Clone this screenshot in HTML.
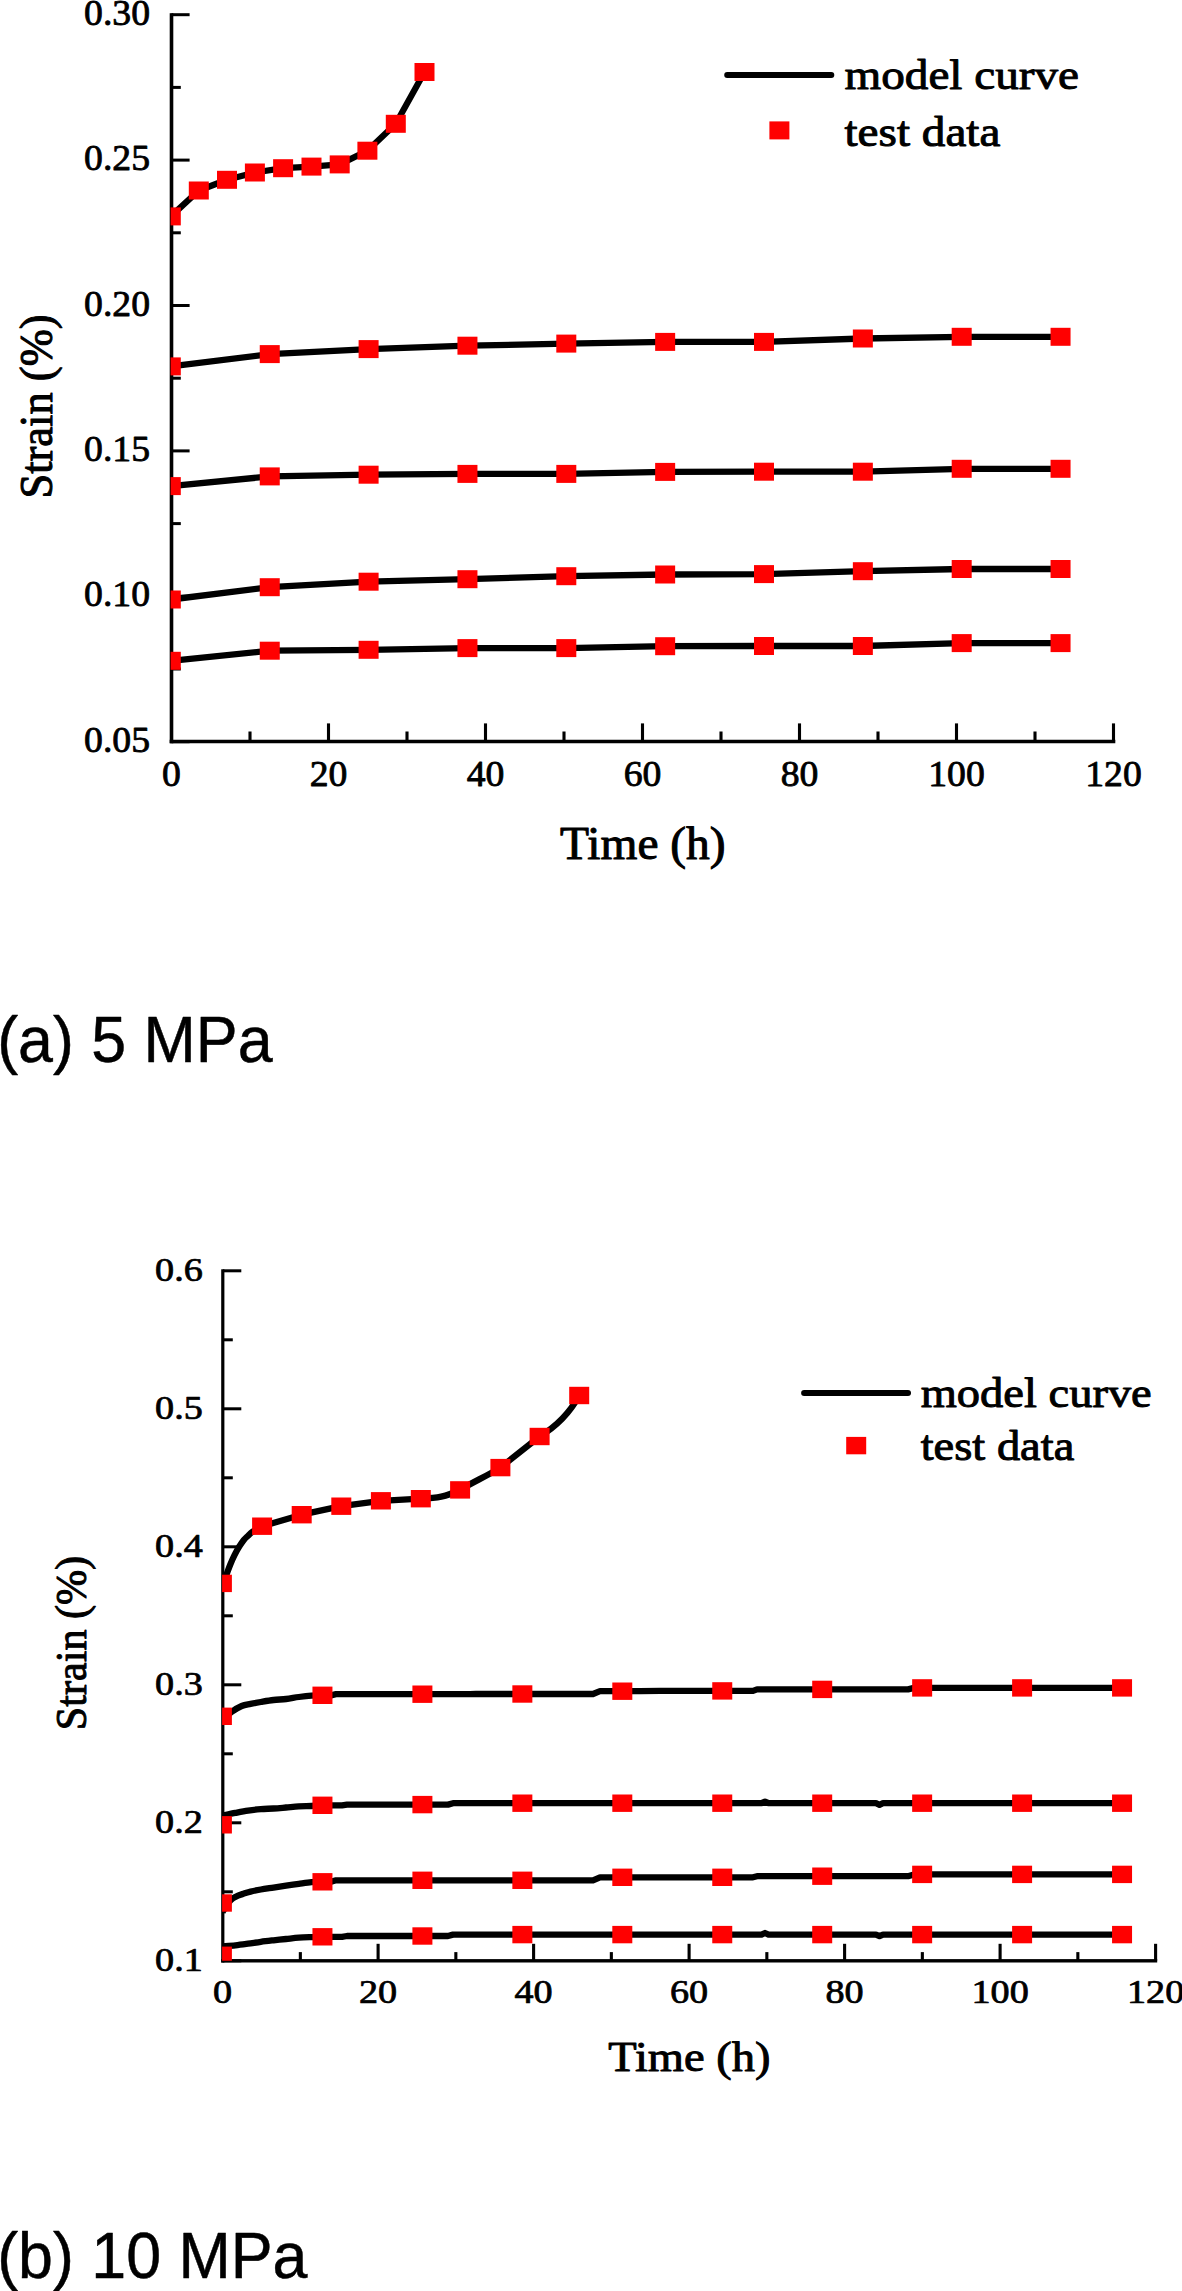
<!DOCTYPE html>
<html lang="en"><head><meta charset="utf-8"><title>Creep curves</title>
<style>html,body{margin:0;padding:0;background:#fff}body{width:1182px;height:2291px;overflow:hidden;position:relative}svg{display:block;position:absolute;left:0;top:0}svg text{font-family:"Liberation Serif","Times New Roman",serif;fill:#000;stroke:#000;stroke-width:0.85px;stroke-linejoin:round}svg text.t{stroke-width:1.05px}svg text.cap{font-family:"Liberation Sans",Arial,sans-serif;stroke-width:0.5px}</style></head><body>
<svg width="1182" height="2291" viewBox="0 0 1182 2291">
<rect width="1182" height="2291" fill="#fff"/>
<g id="a">
<rect x="169.7" y="13.2" width="3.6" height="730.05" fill="#000"/>
<rect x="169.7" y="739.75" width="945.6" height="3.5" fill="#000"/>
<rect x="171.5" y="13.2" width="18.1" height="3" fill="#000"/>
<rect x="171.5" y="158.6" width="18.1" height="3" fill="#000"/>
<rect x="171.5" y="304" width="18.1" height="3" fill="#000"/>
<rect x="171.5" y="449.4" width="18.1" height="3" fill="#000"/>
<rect x="171.5" y="594.8" width="18.1" height="3" fill="#000"/>
<rect x="171.5" y="740.2" width="18.1" height="3" fill="#000"/>
<rect x="171.5" y="85.9" width="9.3" height="3" fill="#000"/>
<rect x="171.5" y="231.3" width="9.3" height="3" fill="#000"/>
<rect x="171.5" y="376.7" width="9.3" height="3" fill="#000"/>
<rect x="171.5" y="522.1" width="9.3" height="3" fill="#000"/>
<rect x="171.5" y="667.5" width="9.3" height="3" fill="#000"/>
<rect x="248.45" y="731.5" width="3.1" height="10" fill="#000"/>
<rect x="326.95" y="723.4" width="3.1" height="18.1" fill="#000"/>
<rect x="405.45" y="731.5" width="3.1" height="10" fill="#000"/>
<rect x="483.95" y="723.4" width="3.1" height="18.1" fill="#000"/>
<rect x="562.45" y="731.5" width="3.1" height="10" fill="#000"/>
<rect x="640.95" y="723.4" width="3.1" height="18.1" fill="#000"/>
<rect x="719.45" y="731.5" width="3.1" height="10" fill="#000"/>
<rect x="797.95" y="723.4" width="3.1" height="18.1" fill="#000"/>
<rect x="876.45" y="731.5" width="3.1" height="10" fill="#000"/>
<rect x="954.95" y="723.4" width="3.1" height="18.1" fill="#000"/>
<rect x="1033.45" y="731.5" width="3.1" height="10" fill="#000"/>
<rect x="1111.95" y="723.4" width="3.1" height="18.1" fill="#000"/>
<text transform="translate(150,24.7) scale(1,0.975)" font-size="37.7" text-anchor="end">0.30</text>
<text transform="translate(150,170.1) scale(1,0.975)" font-size="37.7" text-anchor="end">0.25</text>
<text transform="translate(150,315.5) scale(1,0.975)" font-size="37.7" text-anchor="end">0.20</text>
<text transform="translate(150,460.9) scale(1,0.975)" font-size="37.7" text-anchor="end">0.15</text>
<text transform="translate(150,606.3) scale(1,0.975)" font-size="37.7" text-anchor="end">0.10</text>
<text transform="translate(150,751.7) scale(1,0.975)" font-size="37.7" text-anchor="end">0.05</text>
<text transform="translate(171.5,785.7) scale(1,0.975)" font-size="37.7" text-anchor="middle">0</text>
<text transform="translate(328.5,785.7) scale(1,0.975)" font-size="37.7" text-anchor="middle">20</text>
<text transform="translate(485.5,785.7) scale(1,0.975)" font-size="37.7" text-anchor="middle">40</text>
<text transform="translate(642.5,785.7) scale(1,0.975)" font-size="37.7" text-anchor="middle">60</text>
<text transform="translate(799.5,785.7) scale(1,0.975)" font-size="37.7" text-anchor="middle">80</text>
<text transform="translate(956.5,785.7) scale(1,0.975)" font-size="37.7" text-anchor="middle">100</text>
<text transform="translate(1113.5,785.7) scale(1,0.975)" font-size="37.7" text-anchor="middle">120</text>
<text class="t" transform="translate(642.8,858.6) scale(1,0.975)" font-size="47.4" text-anchor="middle">Time (h)</text>
<text class="t" transform="translate(52.1,406.5) rotate(-90) scale(0.955,1)" font-size="46.6" text-anchor="middle">Strain (%)</text>
<clipPath id="clipa"><rect x="170.6" y="0" width="1010.5" height="741.5"/></clipPath>
<g clip-path="url(#clipa)">
<path d="M170.8 216.4 L198.8 190.5 L227 179.8 L254.9 172.5 L283.1 168.2 L311.5 166.6 L339.7 164.4 L367.4 150.7 L395.8 123.8 L424.5 72" fill="none" stroke="#000" stroke-width="6.3" stroke-linejoin="round" stroke-linecap="butt"/>
<path d="M170.8 366.4 L269.75 354.1 L368.6 349.1 L467.45 345.7 L566.3 343.6 L665.15 341.9 L764 341.9 L862.85 338.5 L961.7 336.8 L1060.55 336.8" fill="none" stroke="#000" stroke-width="6.3" stroke-linejoin="round" stroke-linecap="butt"/>
<path d="M170.8 486.1 L269.75 476.4 L368.6 474.7 L467.45 473.9 L566.3 473.9 L665.15 471.9 L764 471.7 L862.85 471.7 L961.7 468.8 L1060.55 468.8" fill="none" stroke="#000" stroke-width="6.3" stroke-linejoin="round" stroke-linecap="butt"/>
<path d="M170.8 599.5 L269.75 587.2 L368.6 581.7 L467.45 579.2 L566.3 576.2 L665.15 574.5 L764 574.1 L862.85 571.2 L961.7 569 L1060.55 569" fill="none" stroke="#000" stroke-width="6.3" stroke-linejoin="round" stroke-linecap="butt"/>
<path d="M170.8 660.8 L269.75 650.7 L368.6 649.8 L467.45 648.1 L566.3 648.1 L665.15 646.2 L764 646 L862.85 646 L961.7 643.1 L1060.55 643.1" fill="none" stroke="#000" stroke-width="6.3" stroke-linejoin="round" stroke-linecap="butt"/>
<rect x="160.8" y="207.4" width="20" height="18" fill="#f00"/>
<rect x="188.8" y="181.5" width="20" height="18" fill="#f00"/>
<rect x="217" y="170.8" width="20" height="18" fill="#f00"/>
<rect x="244.9" y="163.5" width="20" height="18" fill="#f00"/>
<rect x="273.1" y="159.2" width="20" height="18" fill="#f00"/>
<rect x="301.5" y="157.6" width="20" height="18" fill="#f00"/>
<rect x="329.7" y="155.4" width="20" height="18" fill="#f00"/>
<rect x="357.4" y="141.7" width="20" height="18" fill="#f00"/>
<rect x="385.8" y="114.8" width="20" height="18" fill="#f00"/>
<rect x="414.5" y="63" width="20" height="18" fill="#f00"/>
<rect x="160.8" y="357.4" width="20" height="18" fill="#f00"/>
<rect x="259.75" y="345.1" width="20" height="18" fill="#f00"/>
<rect x="358.6" y="340.1" width="20" height="18" fill="#f00"/>
<rect x="457.45" y="336.7" width="20" height="18" fill="#f00"/>
<rect x="556.3" y="334.6" width="20" height="18" fill="#f00"/>
<rect x="655.15" y="332.9" width="20" height="18" fill="#f00"/>
<rect x="754" y="332.9" width="20" height="18" fill="#f00"/>
<rect x="852.85" y="329.5" width="20" height="18" fill="#f00"/>
<rect x="951.7" y="327.8" width="20" height="18" fill="#f00"/>
<rect x="1050.55" y="327.8" width="20" height="18" fill="#f00"/>
<rect x="160.8" y="477.1" width="20" height="18" fill="#f00"/>
<rect x="259.75" y="467.4" width="20" height="18" fill="#f00"/>
<rect x="358.6" y="465.7" width="20" height="18" fill="#f00"/>
<rect x="457.45" y="464.9" width="20" height="18" fill="#f00"/>
<rect x="556.3" y="464.9" width="20" height="18" fill="#f00"/>
<rect x="655.15" y="462.9" width="20" height="18" fill="#f00"/>
<rect x="754" y="462.7" width="20" height="18" fill="#f00"/>
<rect x="852.85" y="462.7" width="20" height="18" fill="#f00"/>
<rect x="951.7" y="459.8" width="20" height="18" fill="#f00"/>
<rect x="1050.55" y="459.8" width="20" height="18" fill="#f00"/>
<rect x="160.8" y="590.5" width="20" height="18" fill="#f00"/>
<rect x="259.75" y="578.2" width="20" height="18" fill="#f00"/>
<rect x="358.6" y="572.7" width="20" height="18" fill="#f00"/>
<rect x="457.45" y="570.2" width="20" height="18" fill="#f00"/>
<rect x="556.3" y="567.2" width="20" height="18" fill="#f00"/>
<rect x="655.15" y="565.5" width="20" height="18" fill="#f00"/>
<rect x="754" y="565.1" width="20" height="18" fill="#f00"/>
<rect x="852.85" y="562.2" width="20" height="18" fill="#f00"/>
<rect x="951.7" y="560" width="20" height="18" fill="#f00"/>
<rect x="1050.55" y="560" width="20" height="18" fill="#f00"/>
<rect x="160.8" y="651.8" width="20" height="18" fill="#f00"/>
<rect x="259.75" y="641.7" width="20" height="18" fill="#f00"/>
<rect x="358.6" y="640.8" width="20" height="18" fill="#f00"/>
<rect x="457.45" y="639.1" width="20" height="18" fill="#f00"/>
<rect x="556.3" y="639.1" width="20" height="18" fill="#f00"/>
<rect x="655.15" y="637.2" width="20" height="18" fill="#f00"/>
<rect x="754" y="637" width="20" height="18" fill="#f00"/>
<rect x="852.85" y="637" width="20" height="18" fill="#f00"/>
<rect x="951.7" y="634.1" width="20" height="18" fill="#f00"/>
<rect x="1050.55" y="634.1" width="20" height="18" fill="#f00"/>
</g>
<path d="M727.2 75.1H831.3" stroke="#000" stroke-width="6" stroke-linecap="round"/>
<rect x="769.4" y="121.4" width="20" height="18" fill="#f00"/>
<text class="t" transform="translate(844.5,89.3) scale(1,0.91)" font-size="47.2">model curve</text>
<text class="t" transform="translate(844.5,145.8) scale(1,0.91)" font-size="47.2">test data</text>
</g>
<g id="b">
<rect x="221.2" y="1269.3" width="3.2" height="693.2" fill="#000"/>
<rect x="221.2" y="1959.1" width="936" height="3.4" fill="#000"/>
<rect x="222.8" y="1269.3" width="18.5" height="3" fill="#000"/>
<rect x="222.8" y="1407.3" width="18.5" height="3" fill="#000"/>
<rect x="222.8" y="1545.3" width="18.5" height="3" fill="#000"/>
<rect x="222.8" y="1683.3" width="18.5" height="3" fill="#000"/>
<rect x="222.8" y="1821.3" width="18.5" height="3" fill="#000"/>
<rect x="222.8" y="1959.3" width="18.5" height="3" fill="#000"/>
<rect x="222.8" y="1338.3" width="10" height="3" fill="#000"/>
<rect x="222.8" y="1476.3" width="10" height="3" fill="#000"/>
<rect x="222.8" y="1614.3" width="10" height="3" fill="#000"/>
<rect x="222.8" y="1752.3" width="10" height="3" fill="#000"/>
<rect x="222.8" y="1890.3" width="10" height="3" fill="#000"/>
<rect x="298.8" y="1952.1" width="3.1" height="8.7" fill="#000"/>
<rect x="376.55" y="1943.8" width="3.1" height="17" fill="#000"/>
<rect x="454.3" y="1952.1" width="3.1" height="8.7" fill="#000"/>
<rect x="532.05" y="1943.8" width="3.1" height="17" fill="#000"/>
<rect x="609.8" y="1952.1" width="3.1" height="8.7" fill="#000"/>
<rect x="687.55" y="1943.8" width="3.1" height="17" fill="#000"/>
<rect x="765.3" y="1952.1" width="3.1" height="8.7" fill="#000"/>
<rect x="843.05" y="1943.8" width="3.1" height="17" fill="#000"/>
<rect x="920.8" y="1952.1" width="3.1" height="8.7" fill="#000"/>
<rect x="998.55" y="1943.8" width="3.1" height="17" fill="#000"/>
<rect x="1076.3" y="1952.1" width="3.1" height="8.7" fill="#000"/>
<rect x="1154.05" y="1943.8" width="3.1" height="17" fill="#000"/>
<text transform="translate(202.8,1280.6) scale(1,0.865)" font-size="38.2" text-anchor="end">0.6</text>
<text transform="translate(202.8,1418.6) scale(1,0.865)" font-size="38.2" text-anchor="end">0.5</text>
<text transform="translate(202.8,1556.6) scale(1,0.865)" font-size="38.2" text-anchor="end">0.4</text>
<text transform="translate(202.8,1694.6) scale(1,0.865)" font-size="38.2" text-anchor="end">0.3</text>
<text transform="translate(202.8,1832.6) scale(1,0.865)" font-size="38.2" text-anchor="end">0.2</text>
<text transform="translate(202.8,1970.6) scale(1,0.865)" font-size="38.2" text-anchor="end">0.1</text>
<text transform="translate(222.6,2003.2) scale(1,0.865)" font-size="38.2" text-anchor="middle">0</text>
<text transform="translate(378.1,2003.2) scale(1,0.865)" font-size="38.2" text-anchor="middle">20</text>
<text transform="translate(533.6,2003.2) scale(1,0.865)" font-size="38.2" text-anchor="middle">40</text>
<text transform="translate(689.1,2003.2) scale(1,0.865)" font-size="38.2" text-anchor="middle">60</text>
<text transform="translate(844.6,2003.2) scale(1,0.865)" font-size="38.2" text-anchor="middle">80</text>
<text transform="translate(1000.1,2003.2) scale(1,0.865)" font-size="38.2" text-anchor="middle">100</text>
<text transform="translate(1155.6,2003.2) scale(1,0.865)" font-size="38.2" text-anchor="middle">120</text>
<text class="t" transform="translate(689.3,2071) scale(1,0.89)" font-size="46.5" text-anchor="middle">Time (h)</text>
<text class="t" transform="translate(85.7,1643) rotate(-90) scale(0.912,0.95)" font-size="46.2" text-anchor="middle">Strain (%)</text>
<clipPath id="clipb"><rect x="222.1" y="0" width="959.2" height="1960.8"/></clipPath>
<g clip-path="url(#clipb)">
<path d="M222.2 1586 C222.92 1584.1 225.15 1578.18 226.5 1574.6 C227.85 1571.02 228.97 1567.75 230.3 1564.5 C231.63 1561.25 233.02 1558.07 234.5 1555.1 C235.98 1552.13 237.65 1549.23 239.2 1546.7 C240.75 1544.17 242.32 1541.73 243.8 1539.9 C245.28 1538.07 246.68 1537.03 248.1 1535.7 C249.52 1534.37 249.97 1533.48 252.3 1531.9 C254.63 1530.32 260.47 1527.15 262.1 1526.2 L301.7 1514.7 L341.3 1506.2 L380.9 1500.8 L420.8 1498.7 C438 1498 445 1497 460.1 1489.9 C475 1481 485 1477 500.4 1467.6 L539.6 1436.5 C557 1426 570 1412.5 579.2 1395.5" fill="none" stroke="#000" stroke-width="6.3" stroke-linejoin="round" stroke-linecap="butt"/>
<path d="M222.5 1720 C224.05 1718.63 228.6 1714.13 231.8 1711.8 C235 1709.47 238.57 1707.32 241.7 1706 C244.83 1704.68 247.42 1704.57 250.6 1703.9 C253.78 1703.23 256.98 1702.65 260.8 1702 C264.62 1701.35 269.28 1700.5 273.5 1700 C277.72 1699.5 281.88 1699.5 286.1 1699 C290.32 1698.5 294.57 1697.57 298.8 1697 C303.03 1696.43 307.56 1695.88 311.5 1695.6 C315.44 1695.32 320.62 1695.35 322.45 1695.3 L331 1695.3 L336 1694.2 L422.4 1694.2 L470 1694.2 L476 1694 L522.35 1694 L593 1694 L600 1691.2 L622.3 1691.2 L640 1691.2 L660 1690.9 L722.25 1690.9 L753 1690.9 L757 1689.4 L822.2 1689.4 L908 1689.4 L914 1687.9 L922.15 1687.9 L1022.1 1687.9 L1122.05 1687.9" fill="none" stroke="#000" stroke-width="6.3" stroke-linejoin="round" stroke-linecap="butt"/>
<path d="M222.5 1815.6 C224.65 1815.15 231.15 1813.73 235.4 1812.9 C239.65 1812.07 243.77 1811.23 248 1810.6 C252.23 1809.97 256.55 1809.45 260.8 1809.1 C265.05 1808.75 269.3 1808.77 273.5 1808.5 C277.7 1808.23 281.78 1807.85 286 1807.5 C290.22 1807.15 294.55 1806.65 298.8 1806.4 C303.05 1806.15 307.56 1806.18 311.5 1806 C315.44 1805.82 320.62 1805.42 322.45 1805.3 L342 1805.3 L347 1804.6 L422.4 1804.6 L448 1804.6 L453 1803.2 L522.35 1803.2 L622.3 1803.2 L722.25 1803.2 L761.5 1803.2 L765 1801.6 L768.5 1803.2 L822.2 1803.2 L876 1803.2 L879.5 1804.8 L883 1803.2 L922.15 1803.2 L1022.1 1803.2 L1122.05 1803.2" fill="none" stroke="#000" stroke-width="6.3" stroke-linejoin="round" stroke-linecap="butt"/>
<path d="M222.5 1912 C223.58 1910.33 227.25 1904.28 229 1902 C230.75 1899.72 231.5 1899.37 233 1898.3 C234.5 1897.23 236.17 1896.38 238 1895.6 C239.83 1894.82 241.9 1894.27 244 1893.6 C246.1 1892.93 247.8 1892.28 250.6 1891.6 C253.4 1890.92 256.98 1890.17 260.8 1889.5 C264.62 1888.83 269.28 1888.23 273.5 1887.6 C277.72 1886.97 281.88 1886.33 286.1 1885.7 C290.32 1885.07 294.57 1884.4 298.8 1883.8 C303.03 1883.2 307.56 1882.43 311.5 1882.1 C315.44 1881.77 320.62 1881.85 322.45 1881.8 L331 1881.8 L336 1880.3 L422.4 1880.3 L522.35 1880.3 L593 1880.3 L600 1877.3 L622.3 1877.3 L722.25 1877.3 L753 1877.3 L757 1876.2 L822.2 1876.2 L908 1876.2 L914 1874.4 L922.15 1874.4 L1022.1 1874.4 L1122.05 1874.4" fill="none" stroke="#000" stroke-width="6.3" stroke-linejoin="round" stroke-linecap="butt"/>
<path d="M222.5 1946.3 C224.65 1946.13 231.15 1945.73 235.4 1945.3 C239.65 1944.87 243.77 1944.28 248 1943.7 C252.23 1943.12 256.55 1942.37 260.8 1941.8 C265.05 1941.23 269.3 1940.77 273.5 1940.3 C277.7 1939.83 281.78 1939.43 286 1939 C290.22 1938.57 294.55 1938.02 298.8 1937.7 C303.05 1937.38 307.56 1937.25 311.5 1937.1 C315.44 1936.95 320.62 1936.85 322.45 1936.8 L342 1936.8 L347 1936 L422.4 1936 L448 1936 L453 1934.6 L522.35 1934.6 L622.3 1934.6 L722.25 1934.6 L761.5 1934.6 L765 1933 L768.5 1934.6 L822.2 1934.6 L876 1934.6 L879.5 1936.2 L883 1934.6 L922.15 1934.6 L1022.1 1934.6 L1122.05 1934.6" fill="none" stroke="#000" stroke-width="6.3" stroke-linejoin="round" stroke-linecap="butt"/>
<rect x="211.9" y="1574.7" width="20" height="17.4" fill="#f00"/>
<rect x="252.1" y="1517.5" width="20" height="17.4" fill="#f00"/>
<rect x="291.7" y="1506" width="20" height="17.4" fill="#f00"/>
<rect x="331.3" y="1497.5" width="20" height="17.4" fill="#f00"/>
<rect x="370.9" y="1492.1" width="20" height="17.4" fill="#f00"/>
<rect x="410.8" y="1490" width="20" height="17.4" fill="#f00"/>
<rect x="450.1" y="1481.2" width="20" height="17.4" fill="#f00"/>
<rect x="490.4" y="1458.9" width="20" height="17.4" fill="#f00"/>
<rect x="529.6" y="1427.8" width="20" height="17.4" fill="#f00"/>
<rect x="569.2" y="1386.8" width="20" height="17.4" fill="#f00"/>
<rect x="211.9" y="1707.6" width="20" height="17.4" fill="#f00"/>
<rect x="312.45" y="1686.6" width="20" height="17.4" fill="#f00"/>
<rect x="412.4" y="1685.5" width="20" height="17.4" fill="#f00"/>
<rect x="512.35" y="1685.3" width="20" height="17.4" fill="#f00"/>
<rect x="612.3" y="1682.5" width="20" height="17.4" fill="#f00"/>
<rect x="712.25" y="1682.2" width="20" height="17.4" fill="#f00"/>
<rect x="812.2" y="1680.7" width="20" height="17.4" fill="#f00"/>
<rect x="912.15" y="1679.2" width="20" height="17.4" fill="#f00"/>
<rect x="1012.1" y="1679.2" width="20" height="17.4" fill="#f00"/>
<rect x="1112.05" y="1679.2" width="20" height="17.4" fill="#f00"/>
<rect x="211.9" y="1816.1" width="20" height="17.4" fill="#f00"/>
<rect x="312.45" y="1796.6" width="20" height="17.4" fill="#f00"/>
<rect x="412.4" y="1795.9" width="20" height="17.4" fill="#f00"/>
<rect x="512.35" y="1794.5" width="20" height="17.4" fill="#f00"/>
<rect x="612.3" y="1794.5" width="20" height="17.4" fill="#f00"/>
<rect x="712.25" y="1794.5" width="20" height="17.4" fill="#f00"/>
<rect x="812.2" y="1794.5" width="20" height="17.4" fill="#f00"/>
<rect x="912.15" y="1794.5" width="20" height="17.4" fill="#f00"/>
<rect x="1012.1" y="1794.5" width="20" height="17.4" fill="#f00"/>
<rect x="1112.05" y="1794.5" width="20" height="17.4" fill="#f00"/>
<rect x="211.9" y="1894.3" width="20" height="17.4" fill="#f00"/>
<rect x="312.45" y="1873.1" width="20" height="17.4" fill="#f00"/>
<rect x="412.4" y="1871.6" width="20" height="17.4" fill="#f00"/>
<rect x="512.35" y="1871.6" width="20" height="17.4" fill="#f00"/>
<rect x="612.3" y="1868.6" width="20" height="17.4" fill="#f00"/>
<rect x="712.25" y="1868.6" width="20" height="17.4" fill="#f00"/>
<rect x="812.2" y="1867.5" width="20" height="17.4" fill="#f00"/>
<rect x="912.15" y="1865.7" width="20" height="17.4" fill="#f00"/>
<rect x="1012.1" y="1865.7" width="20" height="17.4" fill="#f00"/>
<rect x="1112.05" y="1865.7" width="20" height="17.4" fill="#f00"/>
<rect x="211.9" y="1946.6" width="20" height="17.4" fill="#f00"/>
<rect x="312.45" y="1928.1" width="20" height="17.4" fill="#f00"/>
<rect x="412.4" y="1927.3" width="20" height="17.4" fill="#f00"/>
<rect x="512.35" y="1925.9" width="20" height="17.4" fill="#f00"/>
<rect x="612.3" y="1925.9" width="20" height="17.4" fill="#f00"/>
<rect x="712.25" y="1925.9" width="20" height="17.4" fill="#f00"/>
<rect x="812.2" y="1925.9" width="20" height="17.4" fill="#f00"/>
<rect x="912.15" y="1925.9" width="20" height="17.4" fill="#f00"/>
<rect x="1012.1" y="1925.9" width="20" height="17.4" fill="#f00"/>
<rect x="1112.05" y="1925.9" width="20" height="17.4" fill="#f00"/>
</g>
<path d="M804.1 1393.1H908" stroke="#000" stroke-width="6" stroke-linecap="round"/>
<rect x="846.2" y="1436.9" width="20" height="17.4" fill="#f00"/>
<text class="t" transform="translate(920.7,1407.3) scale(1,0.93)" font-size="46.5">model curve</text>
<text class="t" transform="translate(920.7,1460) scale(1,0.93)" font-size="46.5">test data</text>
</g>
<text class="cap" transform="translate(-2.8,1061.9) scale(0.962,1)" font-size="65.2">(a) 5 MPa</text>
<text class="cap" transform="translate(-2.8,2277.9) scale(0.962,1)" font-size="65.2">(b) 10 MPa</text>
</svg></body></html>
